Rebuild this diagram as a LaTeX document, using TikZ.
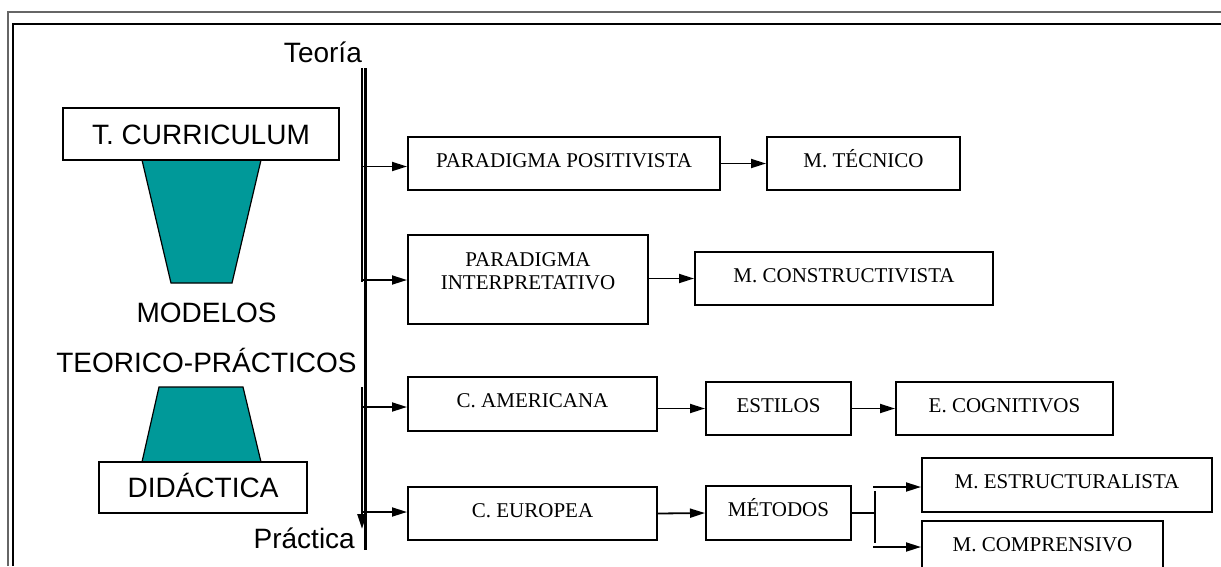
\documentclass[tikz,border=0pt]{standalone}
\usepackage{fontspec}
\setmainfont{Liberation Serif}
\newfontfamily\arialf{Liberation Sans}
\usetikzlibrary{arrows.meta}
\definecolor{tealfill}{RGB}{0,153,153}
\begin{document}
\begin{tikzpicture}[x=1pt,y=-1pt,
  box/.style={draw,line width=2pt,inner sep=0pt,font=\fontsize{21}{23}\selectfont,text height=14pt,text depth=7pt},
  bigbox/.style={draw,line width=2pt,inner sep=0pt,font=\arialf\fontsize{28}{30}\selectfont,text height=20pt,text depth=0pt},
  lbl/.style={inner sep=0pt,font=\arialf\fontsize{28}{30}\selectfont},
  txt/.style={inner sep=0pt,align=center,font=\fontsize{21}{23}\selectfont},
  arr/.style={line width=1.8pt,-{Triangle[length=15pt,width=9pt]}},
  ln/.style={line width=1.8pt},
  vln/.style={line width=2.2pt},
  trap/.style={fill=tealfill,draw=black,line width=1.2pt}]
\useasboundingbox (0,0) rectangle (1221,566);
% frame
\draw[line width=1.8pt,gray!80!black] (8.3,566) -- (8.3,12) -- (1221,12);
\draw[line width=2.2pt] (12.7,566) -- (12.7,23.7) -- (1221,23.7);
% trapezoids
\draw[trap] (142,160) -- (261,160) -- (232,283) -- (171,283) -- cycle;
\draw[trap] (159,387) -- (243,387) -- (261,462) -- (142,462) -- cycle;
% left boxes and labels
\node[bigbox,fill=white,minimum width=276pt,minimum height=52pt] (tc) at (201,134) {T. CURRICULUM};
\node[bigbox,fill=white,minimum width=208pt,minimum height=51pt] (did) at (203,487.5) {DIDÁCTICA};
\node[lbl,anchor=base] (mod) at (206.6,322) {MODELOS};
\node[lbl,anchor=base] (tp) at (206.5,372) {TEORICO-PRÁCTICOS};
\node[lbl,anchor=base east] (teo) at (362,62) {Teoría};
\node[lbl,anchor=base east] (pra) at (355,548) {Práctica};
% right boxes
\node[box,minimum width=312pt,minimum height=53pt] (pp) at (564,163.5) {PARADIGMA POSITIVISTA};
\node[box,minimum width=193pt,minimum height=53pt] (mt) at (863.5,163.5) {M. TÉCNICO};
\node[box,minimum width=240pt,minimum height=89pt] (pi) at (528,279.5) {};
\node[txt] (pit) at (528,271) {PARADIGMA\\INTERPRETATIVO};
\node[box,minimum width=298pt,minimum height=53pt] (mc) at (844,278.5) {M. CONSTRUCTIVISTA};
\node[box,minimum width=249pt,minimum height=54pt] (ca) at (532.5,404) {C. AMERICANA};
\node[box,minimum width=145pt,minimum height=53pt] (es) at (778.5,408.5) {ESTILOS};
\node[box,minimum width=217pt,minimum height=53pt] (ec) at (1004.5,408.5) {E. COGNITIVOS};
\node[box,minimum width=249pt,minimum height=53pt] (ce) at (532.5,513.5) {C. EUROPEA};
\node[box,minimum width=145pt,minimum height=54pt] (me) at (778.5,513) {MÉTODOS};
\node[box,minimum width=290pt,minimum height=54pt] (mes) at (1067,485) {M. ESTRUCTURALISTA};
\node[box,minimum width=241pt,minimum height=54pt] (mco) at (1042.5,548) {M. COMPRENSIVO};
% vertical axis lines
\coordinate (vt1) at (362,68); \coordinate (vb1) at (362,282);
\coordinate (vt2) at (365.5,68); \coordinate (vb2) at (365.5,550);
\coordinate (vt3) at (362,387); \coordinate (vb3) at (362,529);
\draw[vln] (vt1) -- (vb1);
\draw[vln] (vt2) -- (vb2);
\draw[vln,-{Triangle[length=15pt,width=9pt]}] (vt3) -- (vb3);
% branch arrows
\coordinate (a1) at (361,166.5);
\coordinate (a2) at (361,280);
\coordinate (a3) at (361,407);
\coordinate (a4) at (361,512);
\draw[arr] (a1) -- (a1 -| pp.west);
\draw[arr] (a2) -- (a2 -| pi.west);
\draw[arr] (a3) -- (a3 -| ca.west);
\draw[arr] (a4) -- (a4 -| ce.west);
% chains
\draw[arr] (pp.east) -- (mt.west);
\draw[arr] (mc.west -| pi.east) -- (mc.west);
\draw[arr] (es.west -| ca.east) -- (es.west);
\draw[arr] (es.east) -- (ec.west);
\draw[arr] (ce.east) -- (me.west);
% split
\coordinate (s0) at (875,513);
\coordinate (s1) at (875,491);
\coordinate (s2) at (875,543);
\coordinate (s3) at (873,487);
\coordinate (s4) at (873,547);
\draw[ln] (me.east |- s0) -- (s0);
\draw[ln] (s1) -- (s2);
\draw[arr] (s3) -- (s3 -| mes.west);
\draw[arr] (s4) -- (s4 -| mco.west);
\end{tikzpicture}
\end{document}
